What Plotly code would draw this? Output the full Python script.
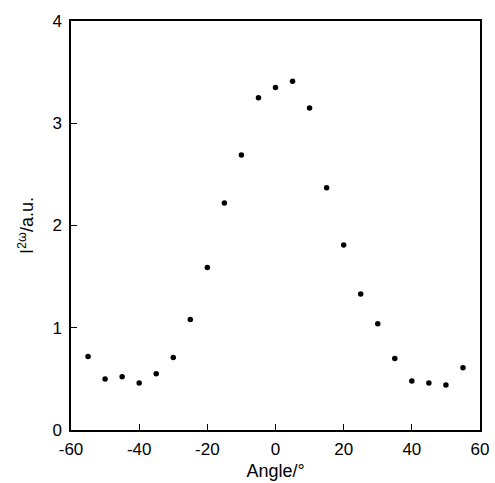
import plotly.graph_objects as go

angles = [-55, -50, -45, -40, -35, -30, -25, -20, -15, -10, -5, 0, 5, 10, 15, 20, 25, 30, 35, 40, 45, 50, 55]
intensity = [0.72, 0.50, 0.52, 0.46, 0.55, 0.71, 1.08, 1.59, 2.22, 2.69, 3.25, 3.35, 3.41, 3.15, 2.37, 1.81, 1.33, 1.04, 0.70, 0.48, 0.46, 0.44, 0.61]
x_ticks = [-60, -40, -20, 0, 20, 40, 60]
x_tick_labels = ["-60", "-40", "-20", "0", "20", "40", "60"]
y_ticks = [0, 1, 2, 3, 4]
y_tick_labels = ["0", "1", "2", "3", "4"]

fig = go.Figure(go.Scatter(
    x=angles, y=intensity, mode="markers",
    marker=dict(color="black", size=5.5),
))

axis_common = dict(
    showline=True, linecolor="black", linewidth=1.5, mirror=True,
    ticks="inside", ticklen=6, tickwidth=1.2, tickcolor="black",
    showgrid=False, zeroline=False, automargin=False,
    tickfont=dict(family="Liberation Sans, Arial", size=17, color="black"),
)

fig.update_xaxes(range=[-60, 60], tickvals=x_ticks, ticktext=x_tick_labels,
                 ticklabelstandoff=3,
                 title=dict(text="Angle/°", font=dict(family="Liberation Sans, Arial", size=18, color="black"), standoff=6),
                 **axis_common)
fig.update_yaxes(range=[0, 4], tickvals=y_ticks, ticktext=y_tick_labels,
                 ticklabelstandoff=4,
                 title=dict(text="I<sup>2ω</sup>/a.u.", font=dict(family="Liberation Sans, Arial", size=18, color="black"), standoff=14),
                 **axis_common)

fig.update_layout(
    width=495, height=483,
    margin=dict(l=71, r=15, t=21, b=53),
    plot_bgcolor="white", paper_bgcolor="white",
    showlegend=False,
)

fig.write_html("out.html")
